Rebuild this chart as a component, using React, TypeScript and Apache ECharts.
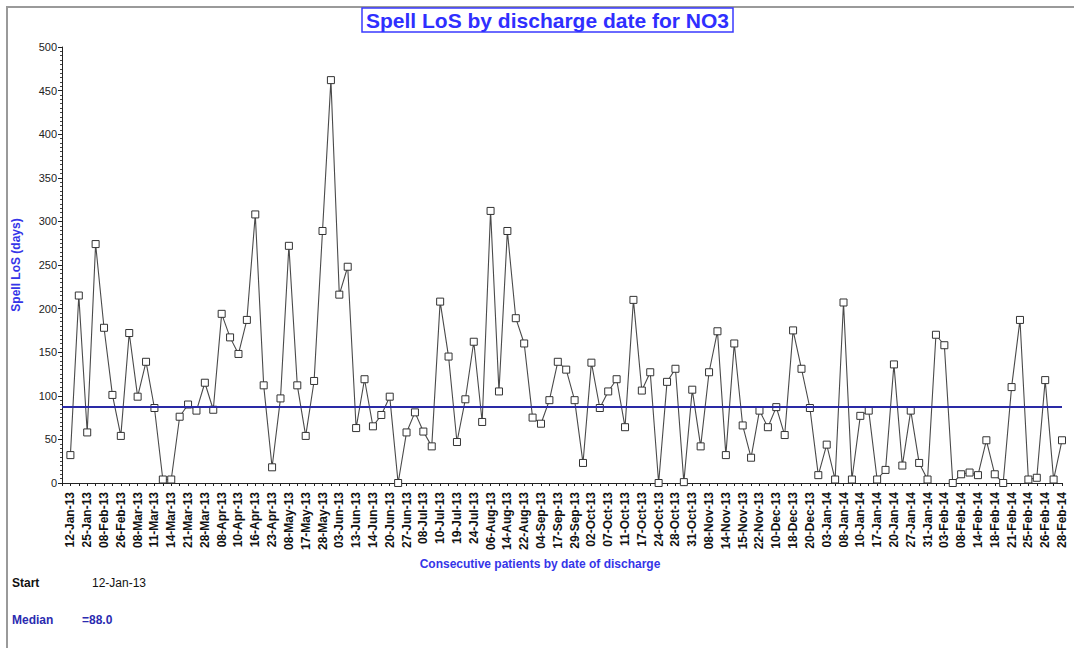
import React, { useEffect, useRef } from "react";
import * as echarts from "echarts";

// Spell LoS (days) for consecutive patients, in order of discharge
const losValues: number[] = [
  32, 215, 58, 274, 178, 101, 54, 172, 99, 139,
  86, 4, 4, 76, 90, 83, 115, 84, 194, 167,
  148, 187, 308, 112, 18, 97, 272, 112, 54, 117,
  289, 462, 216, 248, 63, 119, 65, 78, 99, 0,
  58, 81, 59, 42, 208, 145, 47, 96, 162, 70,
  312, 105, 289, 189, 160, 75, 68, 95, 139, 130,
  95, 23, 138, 86, 105, 119, 64, 210, 106, 127,
  0, 116, 131, 1, 107, 42, 127, 174, 32, 160,
  66, 29, 83, 64, 87, 55, 175, 131, 86, 9,
  44, 4, 207, 4, 77, 83, 4, 15, 136, 20,
  83, 23, 4, 170, 158, 0, 10, 12, 9, 49,
  10, 0, 110, 187, 4, 6, 118, 4, 49,
];

// Discharge-date tick labels (shown on every second patient)
const dateLabels: string[] = [
  "12-Jan-13", "25-Jan-13", "08-Feb-13", "26-Feb-13", "08-Mar-13", "11-Mar-13",
  "14-Mar-13", "21-Mar-13", "28-Mar-13", "08-Apr-13", "10-Apr-13", "16-Apr-13",
  "23-Apr-13", "08-May-13", "17-May-13", "28-May-13", "03-Jun-13", "13-Jun-13",
  "14-Jun-13", "20-Jun-13", "27-Jun-13", "08-Jul-13", "10-Jul-13", "19-Jul-13",
  "24-Jul-13", "06-Aug-13", "14-Aug-13", "22-Aug-13", "04-Sep-13", "17-Sep-13",
  "29-Sep-13", "02-Oct-13", "07-Oct-13", "11-Oct-13", "17-Oct-13", "24-Oct-13",
  "28-Oct-13", "31-Oct-13", "08-Nov-13", "14-Nov-13", "15-Nov-13", "22-Nov-13",
  "10-Dec-13", "18-Dec-13", "20-Dec-13", "03-Jan-14", "08-Jan-14", "10-Jan-14",
  "17-Jan-14", "20-Jan-14", "27-Jan-14", "31-Jan-14", "03-Feb-14", "08-Feb-14",
  "14-Feb-14", "18-Feb-14", "21-Feb-14", "25-Feb-14", "26-Feb-14", "28-Feb-14",
];

const yTicks = { min: 0, max: 500, interval: 50 };
const MEDIAN = 88.0;
const START_DATE = "12-Jan-13";

const FONT = "'Liberation Sans', Arial, sans-serif";

export default function App() {
  const ref = useRef<HTMLDivElement>(null);

  useEffect(() => {
    if (!ref.current) return;
    const chart = echarts.init(ref.current, null, { renderer: "svg" });

    // one leading empty slot so the first patient sits just right of the y axis
    const categories = ["", ...losValues.map((_, i) => String(i + 1))];
    const seriesData: (number | null)[] = [null, ...losValues];

    chart.setOption({
      animation: false,
      backgroundColor: "#ffffff",
      textStyle: { fontFamily: FONT },
      title: {
        text: "Spell LoS by discharge date for NO3",
        left: 362,
        top: 8,
        padding: [1, 4],
        borderColor: "#3a3aff",
        borderWidth: 1.5,
        textStyle: {
          color: "#2f2fff",
          fontSize: 21,
          fontWeight: "bold",
          fontFamily: FONT,
          lineHeight: 22,
        },
      },
      grid: { left: 62, right: 12, top: 47, bottom: 165, containLabel: false },
      xAxis: {
        type: "category",
        data: categories,
        boundaryGap: false,
        name: "Consecutive patients by date of discharge",
        nameLocation: "middle",
        nameGap: 72,
        nameTextStyle: {
          color: "#3535e8",
          fontSize: 12,
          fontWeight: "bold",
          padding: [0, 44, 0, 0],
        },
        axisLine: { lineStyle: { color: "#222", width: 1 } },
        axisTick: { show: true, interval: 0, length: 3, lineStyle: { color: "#222" } },
        axisLabel: {
          interval: 0,
          rotate: 90,
          margin: 9,
          fontSize: 12,
          fontWeight: "bold",
          color: "#111",
          formatter: (_v: string, i: number) =>
            i >= 1 && (i - 1) % 2 === 0 ? dateLabels[(i - 1) / 2] ?? "" : "",
        },
        splitLine: { show: false },
      },
      yAxis: {
        type: "value",
        min: yTicks.min,
        max: yTicks.max,
        interval: yTicks.interval,
        name: "Spell LoS (days)",
        nameLocation: "middle",
        nameGap: 40,
        nameTextStyle: { color: "#3535e8", fontSize: 12, fontWeight: "bold" },
        axisLine: { show: true, lineStyle: { color: "#222", width: 1 } },
        axisTick: { show: true, length: 4, lineStyle: { color: "#222" } },
        minorTick: { show: true, splitNumber: 10, length: 2, lineStyle: { color: "#444" } },
        axisLabel: { fontSize: 11, color: "#222", margin: 5 },
        splitLine: { show: false },
      },
      series: [
        {
          type: "line",
          data: seriesData,
          symbol: "rect",
          symbolSize: 7,
          showAllSymbol: true,
          connectNulls: false,
          lineStyle: { color: "#4a4a4a", width: 1.1 },
          itemStyle: { color: "#ffffff", borderColor: "#333", borderWidth: 1 },
          z: 2,
        },
        {
          type: "line",
          data: [],
          z: 3,
          markLine: {
            silent: true,
            symbol: "none",
            label: { show: false },
            lineStyle: { color: "#2a2aa6", width: 2, type: "solid" },
            data: [{ yAxis: MEDIAN }],
          },
        },
      ],
      graphic: [
        {
          type: "rect",
          shape: { x: 7, y: 7, width: 1100, height: 700 },
          style: { fill: "none", stroke: "#9a9a9a", lineWidth: 2 },
          silent: true,
        },
        {
          type: "text",
          left: 12,
          top: 577,
          style: { text: "Start", font: `bold 12px ${FONT}`, fill: "#111" },
        },
        {
          type: "text",
          left: 92,
          top: 577,
          style: { text: START_DATE, font: `12px ${FONT}`, fill: "#111" },
        },
        {
          type: "text",
          left: 12,
          top: 614,
          style: { text: "Median", font: `bold 12px ${FONT}`, fill: "#2b2bb0" },
        },
        {
          type: "text",
          left: 82,
          top: 614,
          style: { text: "=" + MEDIAN.toFixed(1), font: `bold 12px ${FONT}`, fill: "#2b2bb0" },
        },
      ],
    });

    return () => chart.dispose();
  }, []);

  return (
    <div
      ref={ref}
      style={{ position: "fixed", left: 0, top: 0, width: 1074, height: 648, background: "#fff" }}
    />
  );
}
